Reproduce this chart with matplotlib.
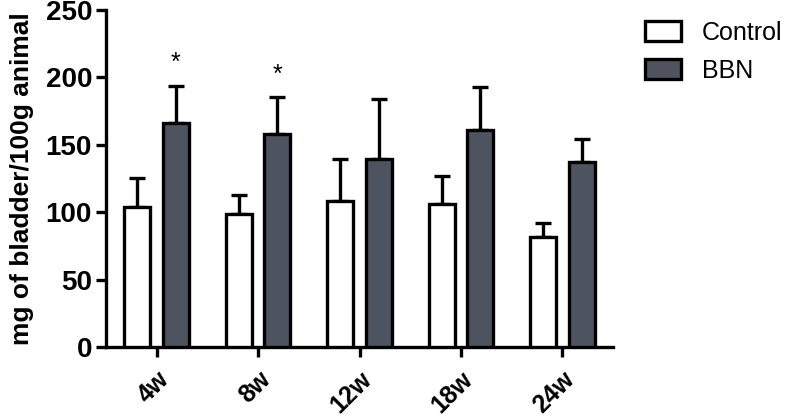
import matplotlib
matplotlib.use("Agg")
import matplotlib.pyplot as plt
import matplotlib.transforms as mtransforms
import numpy as np
from matplotlib.patches import Patch

categories = ["4w", "8w", "12w", "18w", "24w"]
control = [104, 98.6, 108.5, 106, 81.5]
control_err = [21.5, 14.3, 31, 21, 11]
bbn = [166, 158, 139.4, 161, 137]
bbn_err = [27.7, 27.3, 44.7, 32, 17.3]
significant = [True, True, False, False, False]

plt.rcParams['font.family'] = ['Liberation Sans', 'DejaVu Sans']

fig = plt.figure(figsize=(7.91, 4.17), dpi=100)
ax = fig.add_axes([0.134, 0.167, 0.641, 0.809])

x = np.arange(len(categories))
w = 0.257
off = 0.19
lw = 2.4
ax.bar(x - off, control, w, color="white", edgecolor="black", linewidth=lw, zorder=3)
ax.bar(x + off, bbn, w, color="#4e5360", edgecolor="black", linewidth=lw, zorder=3)
ax.errorbar(x - off, control, yerr=[np.zeros(len(control)), control_err], fmt="none",
            ecolor="black", elinewidth=2.4, capsize=5.5, capthick=2.4, zorder=2)
ax.errorbar(x + off, bbn, yerr=[np.zeros(len(bbn)), bbn_err], fmt="none",
            ecolor="black", elinewidth=2.4, capsize=5.5, capthick=2.4, zorder=2)

for i, s in enumerate(significant):
    if s:
        ax.text(x[i] + off, bbn[i] + bbn_err[i] + 8, "*", ha="center", va="bottom",
                fontsize=18, color="black")

ax.set_xlim(-0.5, 4.5)
ax.set_ylim(0, 250)
ax.set_yticks([0, 50, 100, 150, 200, 250])
ax.set_xticks(x)
ax.set_xticklabels(categories, rotation=45, ha="right", rotation_mode="anchor",
                   fontsize=18, fontweight="bold")
shift = mtransforms.ScaledTranslation(6 / 72, 0, fig.dpi_scale_trans)
for lab in ax.get_xticklabels():
    lab.set_transform(lab.get_transform() + shift)
for lab in ax.get_yticklabels():
    lab.set_fontsize(20)
    lab.set_fontweight("bold")
ax.tick_params(axis="both", width=2.4, length=7, direction="out")
ax.tick_params(axis="x", pad=7)
ax.tick_params(axis="y", pad=3)
for s in ["top", "right"]:
    ax.spines[s].set_visible(False)
for s in ["left", "bottom"]:
    ax.spines[s].set_linewidth(2.4)

ax.set_ylabel("mg of bladder/100g animal", fontsize=19, fontweight="bold", labelpad=8)

handles = [Patch(facecolor="white", edgecolor="black", linewidth=2.4, label="Control"),
           Patch(facecolor="#50535d", edgecolor="black", linewidth=2.4, label="BBN")]
fig.legend(handles=handles, loc="upper left", bbox_to_anchor=(0.815, 0.95),
           frameon=False, fontsize=18, handlelength=1.45, handleheight=0.85,
           handletextpad=0.85, labelspacing=0.55, borderaxespad=0, borderpad=0)

fig.savefig("out.png", dpi=100)
